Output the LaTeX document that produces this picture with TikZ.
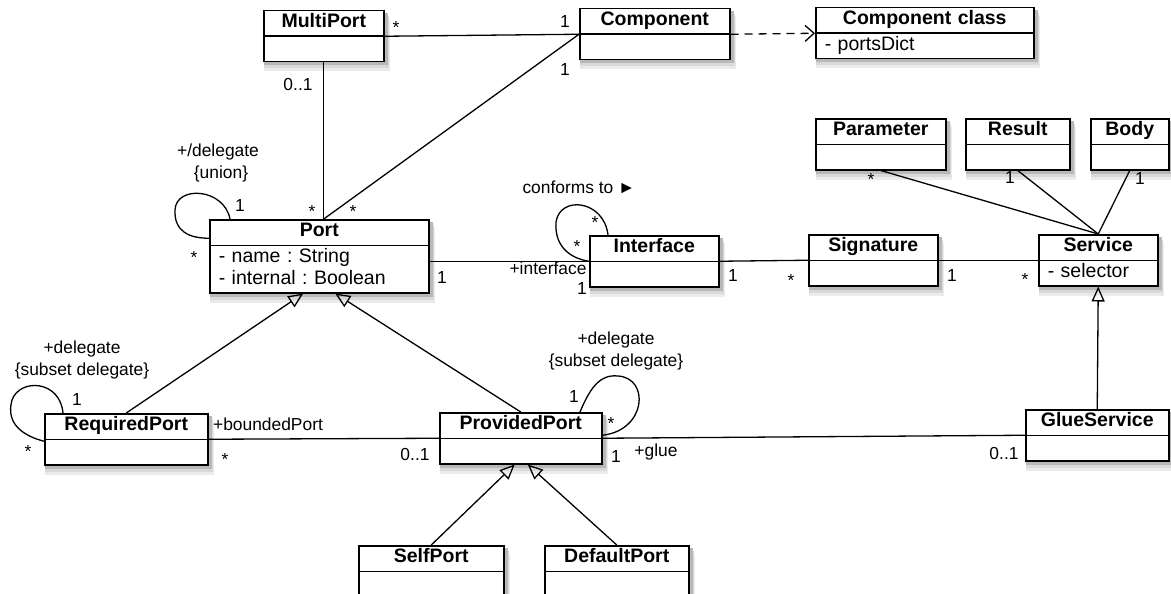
\documentclass[tikz,border=0pt]{standalone}
\usepackage{fontspec}
\setmainfont{Liberation Sans}
\usetikzlibrary{arrows.meta,shapes.multipart,backgrounds}
\newcommand{\classfont}{\fontsize{19.5}{22}\selectfont}
\newcommand{\multfont}{\fontsize{17.4}{20}\selectfont}
\newcommand{\attrfill}{\hskip 0pt plus 1filll\null}
\frenchspacing
\tikzset{
  umlclass/.style={rectangle split, rectangle split parts=2, draw=black, line width=1.5pt,
    fill=white, anchor=north west, inner xsep=9pt, inner ysep=1pt, align=center,
    font=\classfont},
  assoc/.style={line width=1.3pt, draw=black},
  loopline/.style={assoc, line cap=round},
  generalize/.style={assoc, -{Triangle[open, length=15pt, width=13pt]}},
  dependency/.style={assoc, dash pattern=on 8pt off 6pt, -{Straight Barb[length=9pt, width=16pt]}},
  mult/.style={font=\multfont, inner sep=0pt, text height=12.5pt, text depth=0pt}
}

\begin{document}
\begin{tikzpicture}[x=1pt, y=-1pt]
  \useasboundingbox (0,0) rectangle (1171,594);

  % classes
  \node[umlclass, text width=102pt] (multiport) at (263,10) {\textbf{MultiPort}\strut\nodepart{two}\strut};
  \node[umlclass, text width=132pt] (component) at (579,8) {\textbf{Component}\strut\nodepart{two}\strut};
  \node[umlclass, text width=200pt] (componentclass) at (815,7)
    {\textbf{Component class}\strut\nodepart{two}\strut- portsDict\attrfill};
  \node[umlclass, text width=112pt] (parameter) at (815,118) {\textbf{Parameter}\strut\nodepart{two}\strut};
  \node[umlclass, text width=86pt] (result) at (965,118) {\textbf{Result}\strut\nodepart{two}\strut};
  \node[umlclass, text width=60pt] (body) at (1090,118) {\textbf{Body}\strut\nodepart{two}\strut};
  \node[umlclass, text width=201pt] (port) at (209,219)
    {\textbf{Port}\strut\nodepart{two}\strut- name : String\attrfill\\\strut- internal : Boolean\attrfill};
  \node[umlclass, text width=111pt] (interface) at (589,235) {\textbf{Interface}\strut\nodepart{two}\strut};
  \node[umlclass, text width=111pt] (signature) at (808,234) {\textbf{Signature}\strut\nodepart{two}\strut};
  \node[umlclass, text width=101pt] (service) at (1038,234)
    {\textbf{Service}\strut\nodepart{two}\strut- selector\attrfill};
  \node[umlclass, text width=145pt] (requiredport) at (44,413) {\textbf{RequiredPort}\strut\nodepart{two}\strut};
  \node[umlclass, text width=144pt] (providedport) at (439,412) {\textbf{ProvidedPort}\strut\nodepart{two}\strut};
  \node[umlclass, text width=125pt] (glueservice) at (1025,409) {\textbf{GlueService}\strut\nodepart{two}\strut};
  \node[umlclass, text width=127pt] (selfport) at (358,545) {\textbf{SelfPort}\strut\nodepart{two}\strut};
  \node[umlclass, text width=126pt] (defaultport) at (544,545) {\textbf{DefaultPort}\strut\nodepart{two}\strut};

  % soft shadows behind the classes
  \begin{scope}[on background layer]
    \foreach \cls in {multiport,component,componentclass,parameter,result,body,port,interface,
        signature,service,requiredport,providedport,glueservice,selfport,defaultport} {
      \fill[black!8] ([xshift=1pt, yshift=-9pt]\cls.north west) rectangle ([xshift=5pt, yshift=-9pt]\cls.south east);
      \fill[black!15] ([xshift=1pt, yshift=-6pt]\cls.north west) rectangle ([xshift=4pt, yshift=-6pt]\cls.south east);
      \fill[black!28] ([xshift=1pt, yshift=-3pt]\cls.north west) rectangle ([xshift=3pt, yshift=-3pt]\cls.south east);
    }
  \end{scope}

  % associations
  \draw[assoc] (multiport.text split east) -- (component.text split west);
  \draw[assoc] (multiport.south) -- (multiport.south |- port.north);
  \draw[assoc] (component.text split west) -- (multiport.south |- port.north);
  \draw[dependency] (component.text split east) -- (componentclass.text split west);
  \draw[assoc] (interface.text split west -| port.east) -- (interface.text split west);
  \draw[assoc] (interface.text split east) -- (signature.text split west);
  \draw[assoc] (signature.text split east) -- (service.text split west);
  \draw[assoc] (parameter.south) -- (service.north);
  \draw[assoc] (result.south) -- (service.north);
  \draw[assoc] (body.south) -- (service.north);
  \draw[assoc] (requiredport.text split east) -- (providedport.text split west);
  \draw[assoc] (providedport.text split east) -- (glueservice.text split west);

  % self associations
  \draw[loopline] ([xshift=21pt]port.north west) .. controls +(-6,-31) and +(1,-25)
    .. ([xshift=-34pt, yshift=9pt]port.north west) .. controls +(-1,22) and +(-19,0)
    .. ([yshift=7pt]port.text split west);
  \draw[loopline] ([xshift=19pt]interface.north west) .. controls +(-4,-35) and +(4,-27)
    .. ([xshift=-33pt, yshift=13pt]interface.north west) .. controls +(-2,28) and +(-14,-2)
    .. (interface.text split west);
  \draw[loopline] ([xshift=19pt]requiredport.north west) .. controls +(-3,-33) and +(8,-22)
    .. ([xshift=-32pt, yshift=13pt]requiredport.north west) .. controls +(-7,25) and +(-19,-5)
    .. ([yshift=-2pt]requiredport.text split west);
  \draw[loopline] ([xshift=141pt]providedport.north west) .. controls +(10,-24) and +(-18,-2)
    .. ([xshift=179pt, yshift=36pt]providedport.north west) .. controls +(32,2) and +(44,-5)
    .. ([yshift=3pt]providedport.text split east);

  % generalizations
  \draw[generalize] (requiredport.north) -- ([xshift=-16pt]port.south);
  \draw[generalize] (providedport.north) -- ([xshift=16pt]port.south);
  \draw[generalize] (selfport.north) -- ([xshift=-6pt]providedport.south);
  \draw[generalize] (defaultport.north) -- ([xshift=7pt]providedport.south);
  \draw[generalize] (glueservice.north) -- (service.south);

  % roles and multiplicities
  \node[mult] (mp-star) at (396,27) {*};
  \node[mult] (comp-one) at (565,21) {1};
  \node[mult] (comp-port-one) at (565,69) {1};
  \node[mult] (mp-port) at (298,84) {0..1};
  \node[mult] (port-mp) at (312,211) {*};
  \node[mult] (port-comp) at (353,211) {*};
  \node[mult] (deleg-name) at (218,150) {+/delegate};
  \node[mult] (deleg-union) at (221,172) {\{union\}};
  \node[mult] (deleg-one) at (240,205) {1};
  \node[mult] (deleg-star) at (194,257) {*};
  \node[mult] (port-if) at (442,277) {1};
  \node[mult] (if-role) at (548,268) {+interface};
  \node[mult] (if-port) at (582,288) {1};
  \node[mult] (conf-star-a) at (595,222) {*};
  \node[mult] (conf-star-b) at (577,246) {*};
  \node[mult] (conf-name) at (579,187) {conforms to ►};
  \node[mult] (if-sig) at (733,275) {1};
  \node[mult] (sig-if) at (791,280) {*};
  \node[mult] (sig-serv) at (952,275) {1};
  \node[mult] (serv-sig) at (1025,279) {*};
  \node[mult] (par-star) at (871,179) {*};
  \node[mult] (res-one) at (1010,177) {1};
  \node[mult] (body-one) at (1140,178) {1};
  \node[mult] (rp-name) at (82,347) {+delegate};
  \node[mult] (rp-subset) at (82,369) {\{subset delegate\}};
  \node[mult] (rp-one) at (77,399) {1};
  \node[mult] (rp-star) at (28,451) {*};
  \node[mult] (bound-role) at (268,424) {+boundedPort};
  \node[mult] (bound-star) at (225,459) {*};
  \node[mult] (bound-opt) at (415,454) {0..1};
  \node[mult] (pp-name) at (616,338) {+delegate};
  \node[mult] (pp-subset) at (616,360) {\{subset delegate\}};
  \node[mult] (pp-one) at (574,396) {1};
  \node[mult] (pp-star) at (611,423) {*};
  \node[mult] (glue-one) at (616,456) {1};
  \node[mult] (glue-role) at (656,450) {+glue};
  \node[mult] (glue-opt) at (1004,453) {0..1};
\end{tikzpicture}
\end{document}
